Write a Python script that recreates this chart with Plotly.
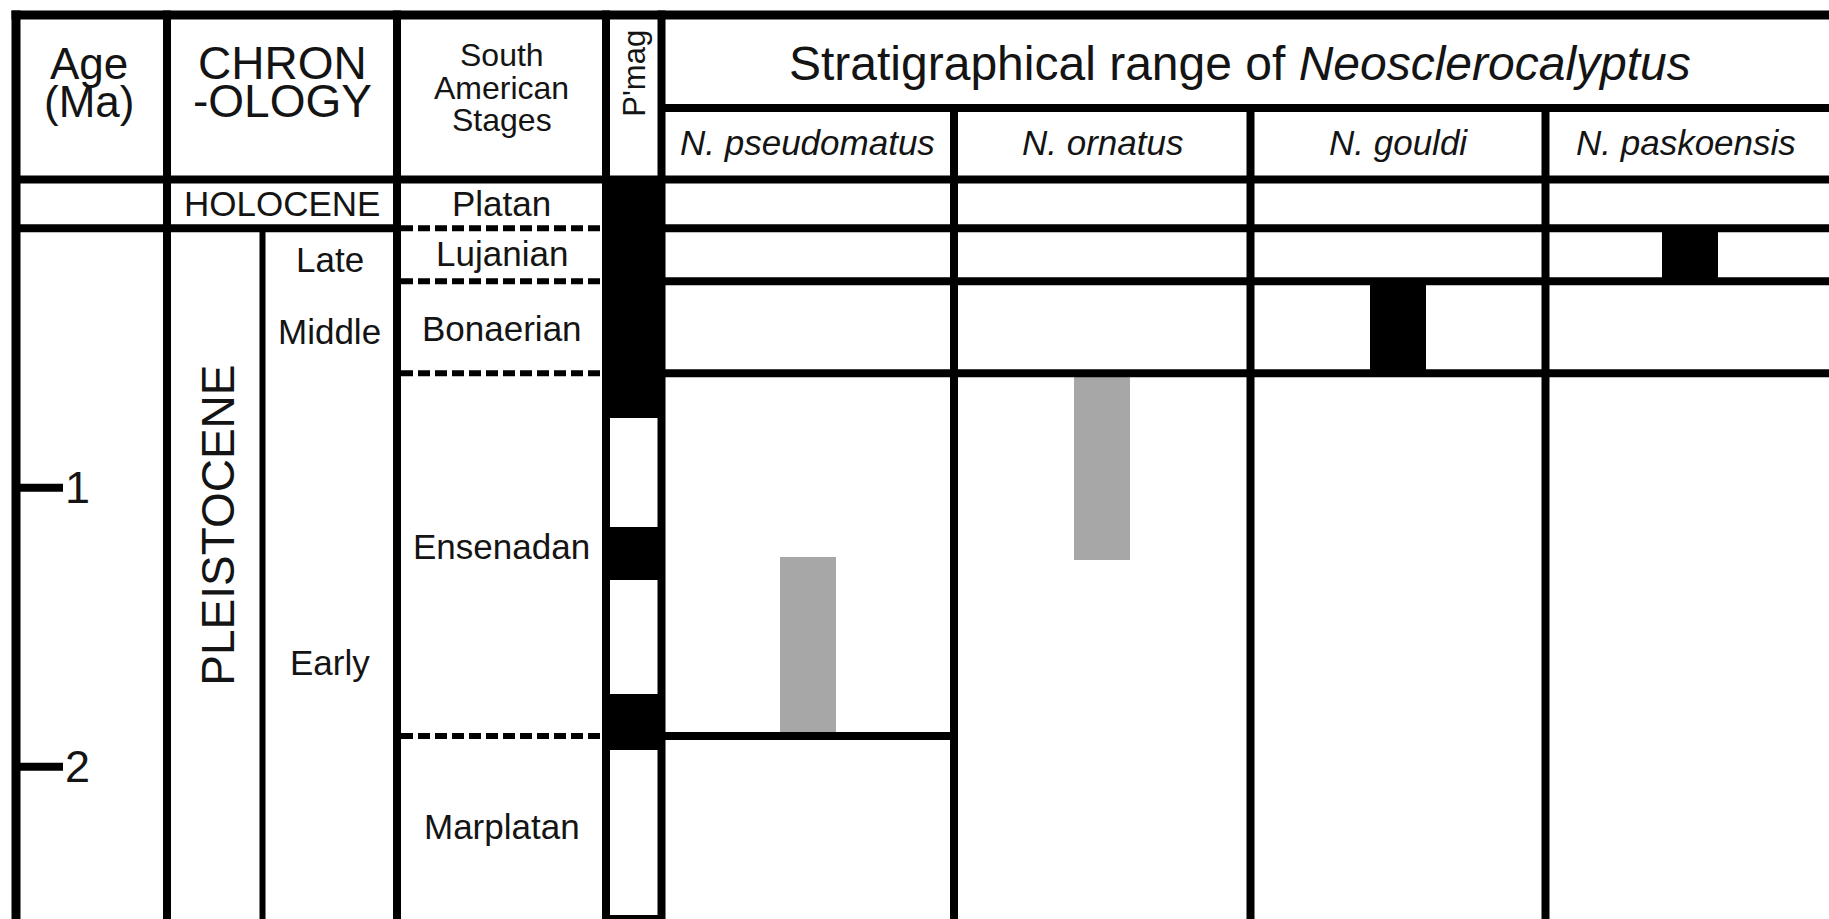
import plotly.graph_objects as go

W, H = 1829, 919

# ---------------- data (ages in Ma) ----------------
stages = ["Platan", "Lujanian", "Bonaerian", "Ensenadan", "Marplatan"]
stage_base_ma = [0.07, 0.26, 0.59, 1.89]          # lower boundary of each stage but the last

subepochs = ["Late", "Middle", "Early"]

species = ["N. pseudomatus", "N. ornatus", "N. gouldi", "N. paskoensis"]
range_top_ma = [1.25, 0.59, 0.26, 0.07]
range_base_ma = [1.89, 1.26, 0.59, 0.26]
range_record = ["probable", "probable", "recorded", "recorded"]

# normal-polarity intervals of the palaeomagnetic column
pmag_normal_top_ma = [0.0, 1.14, 1.74, 2.53]
pmag_normal_base_ma = [0.75, 1.33, 1.94, 2.62]

age_ticks = [1, 2]

# ---------------- layout geometry ----------------
PX_ZERO, PX_PER_MA = 208.7, 279.0


def ma(px):
    """vertical page position (px from top) -> age axis value"""
    return (px - PX_ZERO) / PX_PER_MA


X_BORDER = 16
X_AGE = 167
X_CHRON_MID = 262.5
X_CHRON = 397
X_PMAG_L, X_PMAG_R = 606, 661.5
X_SPECIES = [661.5, 954, 1250.5, 1545.5, 1834]
Y_TOP, Y_TITLE, Y_HEAD = ma(15), ma(108), ma(179.5)
Y_BOTTOM = ma(H + 20)
X_RIGHT = W + 20

INK = "#141414"
FONT = "Liberation Sans, Arial, sans-serif"
RECORD_COLOURS = {"probable": "#a7a7a7", "recorded": "#000000"}

fig = go.Figure()

# palaeomagnetic polarity column
pm_tops = [Y_HEAD if t == 0 else t for t in pmag_normal_top_ma]
fig.add_trace(go.Bar(
    x=[(X_PMAG_L + X_PMAG_R) / 2] * len(pm_tops),
    y=[b - t for t, b in zip(pm_tops, pmag_normal_base_ma)],
    base=pm_tops,
    width=X_PMAG_R - X_PMAG_L,
    marker=dict(color="#000000", line=dict(width=0)),
    hoverinfo="skip", showlegend=False,
))

# stratigraphical ranges of each species
centres = [(X_SPECIES[i] + X_SPECIES[i + 1]) / 2 for i in range(len(species))]
fig.add_trace(go.Bar(
    x=centres,
    y=[b - t for t, b in zip(range_top_ma, range_base_ma)],
    base=range_top_ma,
    width=56,
    marker=dict(color=[RECORD_COLOURS[r] for r in range_record], line=dict(width=0)),
    customdata=species,
    hovertemplate="%{customdata}<extra></extra>",
    showlegend=False,
))

shapes = []


def hline(y, x0, x1, width=8, dash=None):
    shapes.append(dict(type="line", xref="x", yref="y", x0=x0, x1=x1, y0=y, y1=y,
                       line=dict(color="#000000", width=width, dash=dash or "solid")))


def vline(x, y0, y1, width=8):
    shapes.append(dict(type="line", xref="x", yref="y", x0=x, x1=x, y0=y0, y1=y1,
                       line=dict(color="#000000", width=width)))


half = ma(15 - 4.5)
# frame
hline(Y_TOP, X_BORDER - 4.5, X_RIGHT, width=9)
vline(X_BORDER, half, Y_BOTTOM, width=9)
for x in (X_AGE, X_CHRON, X_PMAG_L, X_PMAG_R):
    vline(x, half, Y_BOTTOM)
for x in X_SPECIES[1:4]:
    vline(x, Y_TITLE, Y_BOTTOM)
vline(X_CHRON_MID, stage_base_ma[0], Y_BOTTOM, width=6)
hline(Y_TITLE, X_PMAG_R, X_RIGHT)
hline(Y_HEAD, X_BORDER, X_RIGHT)

# stage boundaries
DASH = "12px,5px"
for i, b in enumerate(stage_base_ma):
    hline(b, X_CHRON + 4, X_PMAG_L - 4, width=6, dash=DASH)
    if i == 0:
        hline(b, X_BORDER, X_CHRON)
    if i < 3:
        hline(b, X_PMAG_R, X_RIGHT)
    else:
        hline(b, X_PMAG_R, X_SPECIES[1])

annotations = []


def label(text, x, y, size, angle=0, italic=False, anchor="center"):
    annotations.append(dict(
        text=text, x=x, y=y, xref="x", yref="y", showarrow=False,
        xanchor=anchor, yanchor="middle", textangle=angle,
        font=dict(family=FONT, size=size, color=INK,
                  style="italic" if italic else "normal")))


# header cells
label("Age", 89, ma(63), 44)
label("(Ma)", 89, ma(101), 44)
label("CHRON", (X_AGE + X_CHRON) / 2, ma(63), 46)
label("-OLOGY", (X_AGE + X_CHRON) / 2, ma(101), 46)
label("South", (X_CHRON + X_PMAG_L) / 2, ma(55), 32)
label("American", (X_CHRON + X_PMAG_L) / 2, ma(87.5), 32)
label("Stages", (X_CHRON + X_PMAG_L) / 2, ma(120), 32)
label("P'mag", (X_PMAG_L + X_PMAG_R) / 2, ma(73), 31, angle=-90)
label("Stratigraphical range of <i>Neosclerocalyptus</i>", 1240, ma(63), 48)
for i, name in enumerate(species):
    cx = centres[i] if i < 3 else 1686
    label(name, cx, ma(142), 35, italic=True)

# chronology column
label("HOLOCENE", (X_AGE + X_CHRON) / 2, (Y_HEAD + stage_base_ma[0]) / 2, 35)
label("PLEISTOCENE", (X_AGE + X_CHRON_MID) / 2 + 3, ma(525), 46, angle=-90)
for name, py in zip(subepochs, [259, 331, 662]):
    label(name, (X_CHRON_MID + X_CHRON) / 2, ma(py), 35)

# stage names
stage_label_px = [203.5, 253, 328, 546, 826]
for name, py in zip(stages, stage_label_px):
    label(name, (X_CHRON + X_PMAG_L) / 2, ma(py), 35)

# age scale
for a in age_ticks:
    hline(a, X_BORDER, 63, width=8)
    label(str(a), 63, a, 45, anchor="left")

fig.update_layout(
    width=W, height=H,
    margin=dict(l=0, r=0, t=0, b=0),
    paper_bgcolor="white", plot_bgcolor="white",
    barmode="overlay", bargap=0,
    shapes=shapes, annotations=annotations,
    showlegend=False,
    xaxis=dict(range=[0, W], visible=False, fixedrange=True),
    yaxis=dict(range=[ma(H), ma(0)], visible=False, fixedrange=True),
)

fig.write_html("out.html")
